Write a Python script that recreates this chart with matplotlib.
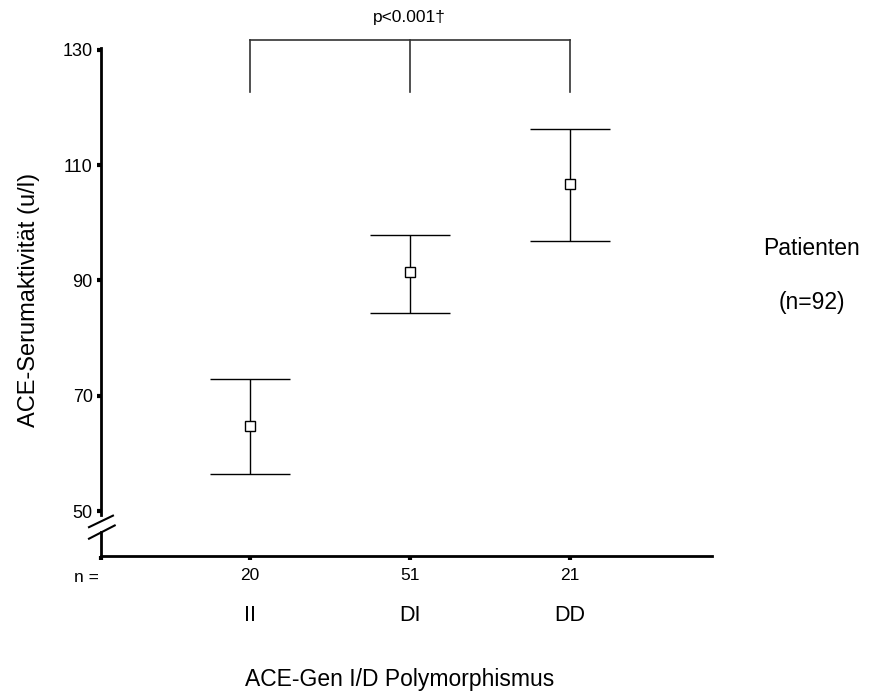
import numpy as np
import matplotlib
matplotlib.use("Agg")
import matplotlib.pyplot as plt

plt.rcParams['font.family'] = ['Liberation Sans', 'DejaVu Sans']

# Data
genotypes = ["II", "DI", "DD"]
counts = ["20", "51", "21"]
means = [64.7, 91.5, 106.7]
upper = [72.9, 97.9, 116.3]
lower = [56.4, 84.3, 96.8]
yticks = [50, 70, 90, 110, 130]

fig = plt.figure(figsize=(8.92, 6.95), dpi=100)
ax = fig.add_axes([0.1132, 0.2, 0.685, 0.731])

x = np.arange(1, len(genotypes) + 1)
means = np.array(means)
yerr = [means - np.array(lower), np.array(upper) - means]
ax.errorbar(x, means, yerr=yerr, fmt='s', color='black', mfc='white', mec='black',
            ms=7, mew=1.0, elinewidth=1.0, capsize=28.8, capthick=1.0)

ax.set_xlim(0.07, 3.89)
ax.set_ylim(42.2, 130.3)

# spines
for s in ['top', 'right', 'left']:
    ax.spines[s].set_visible(False)
ax.spines['bottom'].set_linewidth(2)

# y axis with break
ytr = ax.get_yaxis_transform()
ax.plot([0, 0], [49.3, 130.3], transform=ytr, color='black', lw=2, clip_on=False)
ax.plot([0, 0], [46.4, 42.2], transform=ytr, color='black', lw=2, clip_on=False)
ax.plot([-0.0196, 0.0196], [47.2, 49.2], transform=ytr, color='black', lw=1.5, clip_on=False)
ax.plot([-0.0196, 0.0225], [45.2, 47.5], transform=ytr, color='black', lw=1.5, clip_on=False)

ax.set_yticks(yticks)
ax.set_yticklabels([str(v) for v in yticks])
ax.set_xticks([0.07] + list(x))
ax.set_xticklabels([""] + counts)
ax.tick_params(axis='both', direction='out', length=3, width=3, labelsize=12.5)
ax.tick_params(axis='y', pad=3, labelsize=13)
ax.tick_params(axis='x', pad=6)

xtr = ax.get_xaxis_transform()
ax.text(-0.023, -0.042, "n =", transform=ax.transAxes, ha='center', va='center', fontsize=12.5)
for xi, g in zip(x, genotypes):
    ax.text(xi, -0.117, g, transform=xtr, ha='center', va='center', fontsize=15.5)

fig.text(0.448, 0.022, "ACE-Gen I/D Polymorphismus", ha='center', va='center', fontsize=16.5)
fig.text(0.032, 0.568, "ACE-Serumaktivität (u/l)", rotation=90, ha='center', va='center', fontsize=17)
fig.text(0.91, 0.643, "Patienten", ha='center', va='center', fontsize=16.5)
fig.text(0.91, 0.565, "(n=92)", ha='center', va='center', fontsize=16.5)

# significance bracket
bc = '#333333'
ax.plot([x[0], x[-1]], [131.7, 131.7], color=bc, lw=1.2, clip_on=False)
for xi in x:
    ax.plot([xi, xi], [131.7, 122.7], color=bc, lw=1.2, clip_on=False)
ax.text(x[1], 135.6, "p<0.001\u2020", ha='center', va='center', fontsize=12.5, clip_on=False)

fig.savefig("out.png", dpi=100)
